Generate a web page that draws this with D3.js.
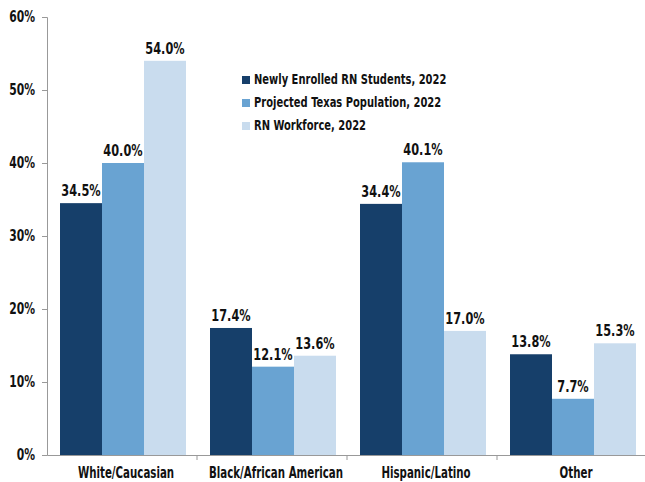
<!DOCTYPE html>
<html><head><meta charset="utf-8">
<script src="https://cdn.jsdelivr.net/npm/d3@7"></script>
<style>
body{margin:0;background:#fff;}
text{font-family:"DejaVu Sans Condensed","Liberation Sans Narrow",sans-serif;font-weight:bold;fill:#111;}
</style></head>
<body><svg id="c" width="645" height="482"></svg>
<script>
const categories = ["White/Caucasian","Black/African American","Hispanic/Latino","Other"];
const seriesNames = ["Newly Enrolled RN Students, 2022","Projected Texas Population, 2022","RN Workforce, 2022"];
const newlyEnrolled = [34.5,17.4,34.4,13.8];
const texasPopulation = [40.0,12.1,40.1,7.7];
const rnWorkforce = [54.0,13.6,17.0,15.3];
const yTicks = [0,10,20,30,40,50,60];
const colors = ["#163f6a","#69a3d2","#c9dcee"];

const series = [newlyEnrolled, texasPopulation, rnWorkforce];
const svg = d3.select("#c");
const x0 = d3.scaleBand().domain(categories).range([47,647]).paddingInner(0).paddingOuter(0);
const x1 = d3.scaleBand().domain(d3.range(3)).range([13,139]).padding(0);
const y = d3.scaleLinear().domain([0,60]).range([455,17]);

// horizontally condense text to mimic a condensed typeface
function condense(sel,k,dx){
  sel.each(function(){
    const t=d3.select(this);
    const x=+(t.attr("x")||0)+(dx||0);
    const tr=t.attr("transform")||"";
    t.attr("x",x/k).attr("transform",tr+` scale(${k},1)`);
  });
}

// bars
categories.forEach((c,ci)=>{
  const g = svg.append("g").attr("transform",`translate(${x0(c)},0)`);
  series.forEach((s,si)=>{
    g.append("rect").attr("x",x1(si)).attr("width",x1.bandwidth())
      .attr("y",y(s[ci])).attr("height",y(0)-y(s[ci])).attr("fill",colors[si]);
    g.append("text").attr("class","val").attr("x",x1(si)+x1.bandwidth()/2).attr("y",y(s[ci])-7)
      .attr("text-anchor","middle").style("font-size","15px").text(s[ci].toFixed(1)+"%");
  });
});
condense(svg.selectAll("text.val"),0.84);

// y axis
const ya = d3.axisLeft(y).tickValues(yTicks).tickFormat(d=>d+"%").tickSize(5).tickPadding(7);
const yg = svg.append("g").attr("transform","translate(47,0)").call(ya);
yg.select(".domain").attr("stroke","#999");
yg.selectAll(".tick line").attr("stroke","#999");
yg.selectAll("text").style("font-size","15px").attr("fill","#111");
condense(yg.selectAll("text"),0.8);

// x axis
const xa = d3.axisBottom(x0).tickSize(0).tickPadding(12);
const xg = svg.append("g").attr("transform","translate(0,455)").call(xa);
xg.select(".domain").attr("stroke","#999");
xg.selectAll("text").style("font-size","15px").attr("fill","#111");
condense(xg.selectAll("text"),0.76,4);
// boundary ticks
xg.selectAll(".btick").data(categories.slice(1)).enter().append("line")
  .attr("x1",d=>x0(d)).attr("x2",d=>x0(d)).attr("y1",0).attr("y2",5).attr("stroke","#999");

// legend
const lg = svg.append("g").attr("transform","translate(242,79)");
seriesNames.forEach((n,i)=>{
  lg.append("rect").attr("x",0).attr("y",i*23-3).attr("width",8).attr("height",8).attr("fill",colors[i]);
  lg.append("text").attr("class","leg").attr("x",12).attr("y",i*23+5).style("font-size","14px").text(n);
});
condense(lg.selectAll("text.leg"),0.79);
</script></body></html>
